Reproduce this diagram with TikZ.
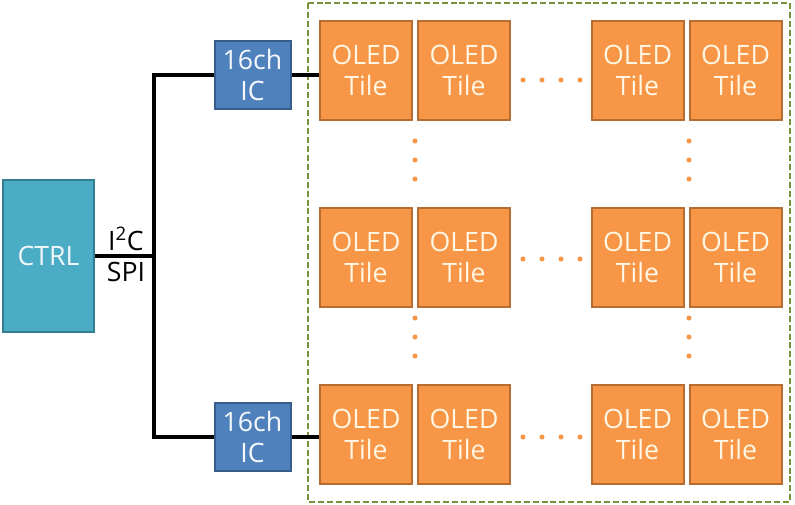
\documentclass[tikz,border=0pt]{standalone}
\usepackage{fontspec}
\setmainfont{Open Sans}
\definecolor{tilefill}{HTML}{F79646}
\definecolor{tiledraw}{HTML}{B66D31}
\definecolor{tiletext}{HTML}{FFF6E3}
\definecolor{ctrlfill}{HTML}{4BACC6}
\definecolor{ctrldraw}{HTML}{357D91}
\definecolor{icfill}{HTML}{4F81BD}
\definecolor{icdraw}{HTML}{385D8A}
\definecolor{framecol}{HTML}{77933C}
\begin{document}
\begin{tikzpicture}[x=0.75pt,y=-0.75pt,
  base/.style={rectangle, line width=1.5pt, inner sep=0pt, align=center,
    font=\fontsize{20}{23.5}\selectfont},
  tile/.style={base, fill=tilefill, draw=tiledraw, text=tiletext,
    minimum width=92*0.75pt, minimum height=99*0.75pt},
  ctrlbox/.style={base, fill=ctrlfill, draw=ctrldraw, text=white!92!ctrlfill,
    minimum width=91*0.75pt, minimum height=152*0.75pt},
  icbox/.style={base, fill=icfill, draw=icdraw, text=white!95!icfill,
    minimum width=76*0.75pt, minimum height=68*0.75pt},
  wire/.style={line width=2.6pt, black},
  frame/.style={draw=framecol, line width=1.6pt, dash pattern=on 4.5pt off 2.2pt},
  dotmark/.style={circle, fill=tilefill, inner sep=0pt, minimum size=3.8pt},
  lbl/.style={font=\fontsize{20}{20}\selectfont, inner sep=0pt}
]
\useasboundingbox (0,0) rectangle (795,505);
% frame
\draw[frame] (308,3) rectangle (790,502);
% controller
\node[ctrlbox] (ctrl) at (48.5,256) {CTRL};
% ICs
\node[icbox] (ic1) at (252.5,75) {16ch\\IC};
\node[icbox] (ic2) at (252.5,437) {16ch\\IC};
% tiles
\foreach \r/\y in {1/70.5,2/257.5,3/434.5}{
  \foreach \c/\x in {1/366,2/464,3/637.5,4/735.5}{
    \node[tile] (t\r\c) at (\x,\y) {OLED\\Tile};
  }
}
% bus
\coordinate (busm) at (154,256);
\draw[wire] (ctrl.east) -- (busm);
\draw[wire] (ic1.west) -| (busm) |- (ic2.west);
\draw[wire] (ic1.east) -- (ic1.east -| t11.west);
\draw[wire] (ic2.east) -- (ic2.east -| t31.west);
% labels
\node[lbl] (i2c) at (126,239) {I\textsuperscript{2}C};
\node[lbl] (spi) at (126,272) {SPI};
% horizontal dots
\foreach \y in {80,259,437}{
  \foreach \x in {523,542,561,580}{
    \node[dotmark] at (\x,\y) {};
  }
}
% vertical dots
\foreach \x in {415,689}{
  \foreach \y in {141,160,179,318,337,356}{
    \node[dotmark] at (\x,\y) {};
  }
}
\end{tikzpicture}
\end{document}
